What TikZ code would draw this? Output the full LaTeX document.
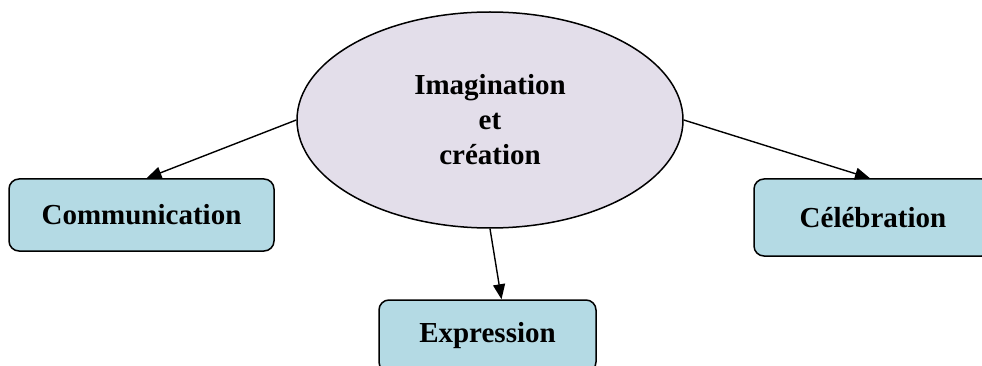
\documentclass[tikz,border=0pt]{standalone}
\usepackage{fontspec}
\setmainfont{Liberation Serif}
\usetikzlibrary{shapes.geometric,arrows.meta}
\definecolor{boxfill}{HTML}{B4DAE4}
\definecolor{ellfill}{HTML}{E3DEEA}
\tikzset{
  box/.style={draw=black, line width=1.5pt, fill=boxfill, rounded corners=10pt, inner sep=0pt, font=\fontsize{29}{35}\selectfont\bfseries},
  conn/.style={line width=1.4pt, -{Triangle[length=15pt,width=12pt]}}
}
\begin{document}
\begin{tikzpicture}[x=1pt,y=-1pt]
\useasboundingbox (0,0) rectangle (982,366);
\clip (0,0) rectangle (982,366);
\node[ellipse, draw=black, line width=1.5pt, fill=ellfill, minimum width=386pt, minimum height=216pt, inner sep=0pt, align=center, font=\fontsize{29}{35}\selectfont\bfseries] (ell) at (490,120) {Imagination\\et\\création};
\node[box, minimum width=265pt, minimum height=72pt] (comm) at (141.5,215) {Communication};
\node[box, minimum width=238pt, minimum height=77pt] (cel) at (873,217.5) {Célébration};
\node[box, minimum width=217pt, minimum height=72pt] (exp) at (487.5,336) {Expression};
\draw[conn] (ell.west) -- ([xshift=5pt]comm.north);
\draw[conn] (ell.east) -- ([xshift=-3pt]cel.north);
\draw[conn] (ell.south) -- ([xshift=14pt]exp.north);
\end{tikzpicture}
\end{document}
